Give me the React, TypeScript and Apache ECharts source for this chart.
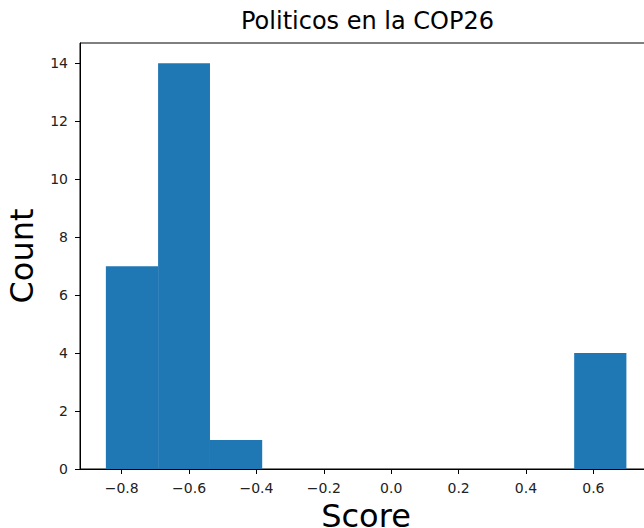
import React, { useEffect, useRef } from "react";
import * as echarts from "echarts";

const binEdges = [-0.847, -0.692, -0.538, -0.383, -0.229, -0.074, 0.08, 0.234, 0.389, 0.543, 0.698];
const counts = [7, 14, 1, 0, 0, 0, 0, 0, 0, 4];
const xTicks = [-0.8, -0.6, -0.4, -0.2, 0.0, 0.2, 0.4, 0.6];
const yTicks = [0, 2, 4, 6, 8, 10, 12, 14];
const titleText = "Politicos en la COP26";
const xName = "Score";
const yName = "Count";

export default function App() {
  const ref = useRef<HTMLDivElement>(null);
  useEffect(() => {
    if (!ref.current) return;
    const chart = echarts.init(ref.current, null, { renderer: "svg" });
    const font = "DejaVu Sans";
    const data = counts.map((c, i) => [binEdges[i], binEdges[i + 1], c]);
    chart.setOption({
      animation: false,
      backgroundColor: "#fff",
      textStyle: { fontFamily: font },
      title: {
        text: titleText,
        left: 241,
        top: 9,
        padding: 0,
        textStyle: { fontFamily: font, fontSize: 24, fontWeight: "normal", color: "#000" },
      },
      grid: {
        left: 80,
        top: 43,
        width: 572,
        height: 426,
        show: true,
        borderColor: "#000",
        borderWidth: 1,
        backgroundColor: "transparent",
        containLabel: false,
        outerBoundsMode: "none",
      },
      xAxis: {
        type: "value",
        min: -0.9238,
        max: 0.774,
        name: xName,
        nameLocation: "middle",
        nameGap: 20,
        nameTextStyle: { fontFamily: font, fontSize: 32, color: "#000" },
        axisLine: { show: true, onZero: false, lineStyle: { color: "#000", width: 1 } },
        axisTick: { show: true, length: 5, lineStyle: { color: "#000" }, customValues: xTicks },
        axisLabel: {
          fontFamily: font,
          fontSize: 14,
          color: "#222",
          margin: 12,
          customValues: xTicks,
          formatter: (v: number) => {
            const s = v.toFixed(1);
            return v < 0 ? "\u2212" + s.slice(1) : s === "-0.0" ? "0.0" : s;
          },
        },
        splitLine: { show: false },
      },
      yAxis: {
        type: "value",
        min: 0,
        max: 14.7,
        name: yName,
        nameLocation: "middle",
        nameRotate: 90,
        nameGap: 42,
        nameTextStyle: { fontFamily: font, fontSize: 32, color: "#000" },
        axisLine: { show: true, onZero: false, lineStyle: { color: "#000", width: 1 } },
        axisTick: { show: true, length: 5, lineStyle: { color: "#000" }, customValues: yTicks },
        axisLabel: {
          fontFamily: font,
          fontSize: 14,
          color: "#222",
          margin: 12,
          customValues: yTicks,
        },
        splitLine: { show: false },
      },
      series: [
        {
          type: "custom",
          data,
          encode: { x: [0, 1], y: 2 },
          renderItem: (params: any, api: any) => {
            const x0 = api.value(0);
            const x1 = api.value(1);
            const c = api.value(2);
            if (!c) return null;
            const p0 = api.coord([x0, c]);
            const p1 = api.coord([x1, 0]);
            return {
              type: "rect",
              shape: { x: p0[0], y: p0[1], width: p1[0] - p0[0], height: p1[1] - p0[1] },
              style: { fill: "#1f77b4" },
            };
          },
        },
      ],
    });
    return () => chart.dispose();
  }, []);
  return <div ref={ref} style={{ width: 644, height: 528, position: "absolute", left: 0, top: 0 }} />;
}
